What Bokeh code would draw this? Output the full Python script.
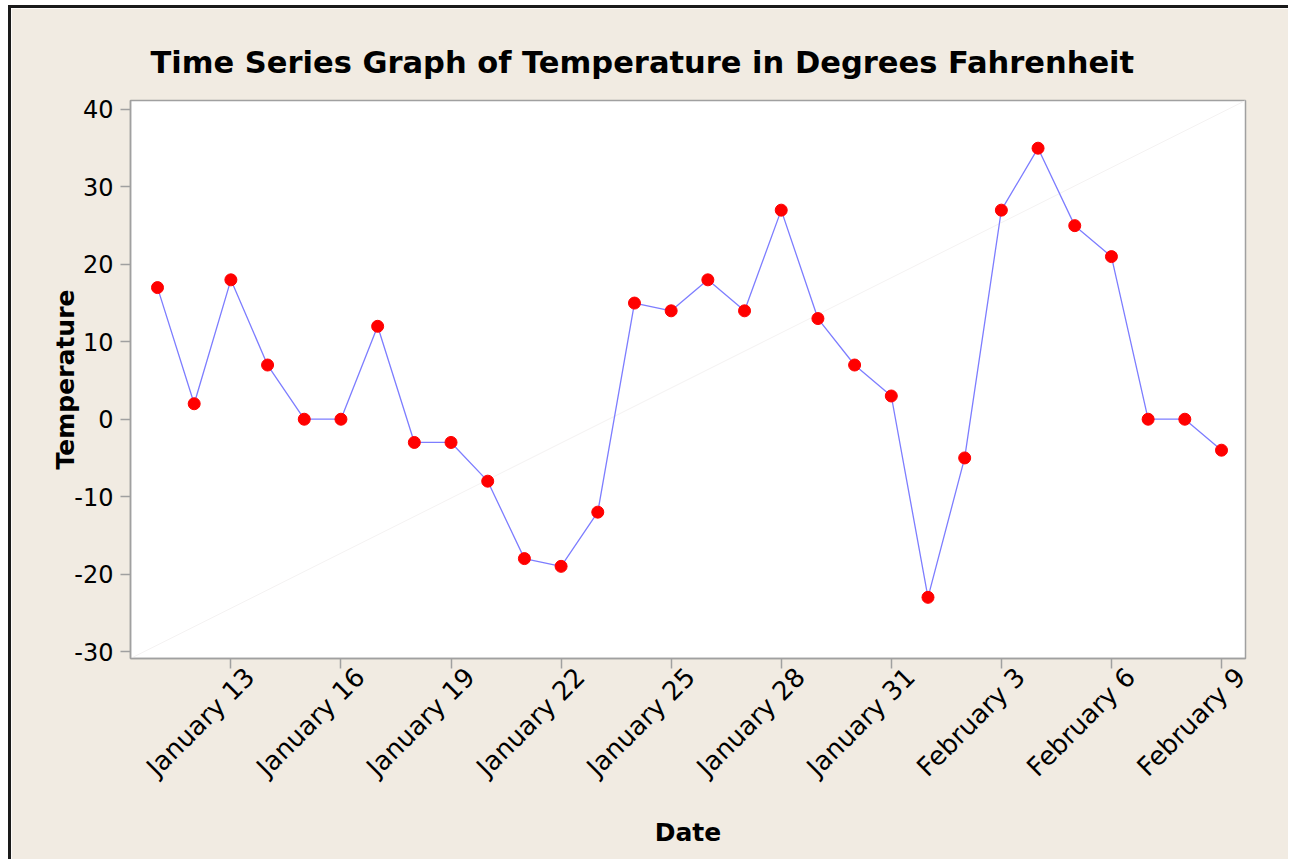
from bokeh.plotting import figure
from bokeh.models import FixedTicker, Range1d, ColumnDataSource, LinearAxis
from bokeh.embed import file_html
from bokeh.resources import INLINE

# ---- data ----
dates = ["January 11", "January 12", "January 13", "January 14", "January 15",
         "January 16", "January 17", "January 18", "January 19", "January 20",
         "January 21", "January 22", "January 23", "January 24", "January 25",
         "January 26", "January 27", "January 28", "January 29", "January 30",
         "January 31", "February 1", "February 2", "February 3", "February 4",
         "February 5", "February 6", "February 7", "February 8", "February 9"]
temperature = [17, 2, 18, 7, 0, 0, 12, -3, -3, -8,
               -18, -19, -12, 15, 14, 18, 14, 27, 13, 7,
               3, -23, -5, 27, 35, 25, 21, 0, 0, -4]
tick_labels = ["January 13", "January 16", "January 19", "January 22", "January 25",
               "January 28", "January 31", "February 3", "February 6", "February 9"]
y_ticks = [-30, -20, -10, 0, 10, 20, 30, 40]

idx = list(range(len(dates)))
label_pos = [dates.index(t) for t in tick_labels]

x_lo, x_hi = -0.736, len(dates) - 1 + 0.654
y_lo, y_hi = -30.9, 41.16
label_shift = 0.52  # rotated tick labels sit a little right of their ticks

BG = "#f1ebe2"
FONT = "DejaVu Sans"

p = figure(width=1280, height=854, output_backend="svg", toolbar_location=None,
           x_range=Range1d(x_lo, x_hi), y_range=Range1d(y_lo, y_hi),
           title="Time Series Graph of Temperature in Degrees Fahrenheit",
           min_border_left=119, min_border_top=92, min_border_right=46,
           min_border_bottom=204)
p.styles = {"border-left": "3px solid #1a1a1a", "border-top": "3px solid #1a1a1a",
            "margin-left": "8px", "margin-top": "5px"}
p.extra_x_ranges = {"lbl": Range1d(x_lo - label_shift, x_hi - label_shift)}

p.background_fill_color = "white"
p.border_fill_color = BG
p.outline_line_color = "#a0a0a0"
p.outline_line_width = 1.5

p.title.text_font = FONT
p.title.text_font_size = "30.5px"
p.title.text_font_style = "bold"
p.title.text_color = "black"
p.title.align = "left"
p.title.offset = 20
p.title.standoff = 41

p.xgrid.visible = False
p.ygrid.visible = False

# faint diagonal reference across the frame
p.line([x_lo, x_hi], [y_lo, y_hi], line_color="#f4f2f2", line_width=1)

src = ColumnDataSource(dict(x=idx, y=temperature, d=dates))
p.line("x", "y", source=src, line_color="#7d7dff", line_width=1.3)
p.scatter("x", "y", source=src, size=12, fill_color="#ff0000", line_color="#ff0000")

# main x axis: line and ticks only
xa = p.xaxis[0]
xa.ticker = FixedTicker(ticks=label_pos)
xa.major_label_overrides = {i: "" for i in label_pos}
xa.major_label_text_font_size = "4px"
xa.major_label_standoff = 0

# label axis: the rotated date labels and the axis title
la = LinearAxis(x_range_name="lbl", ticker=FixedTicker(ticks=label_pos))
la.major_label_overrides = {i: t for i, t in zip(label_pos, tick_labels)}
la.major_label_orientation = 0.785398
la.axis_line_color = None
la.major_tick_line_color = None
la.minor_tick_line_color = None
la.major_tick_out = 0
la.major_tick_in = 0
la.major_label_text_font = FONT
la.major_label_text_font_size = "26px"
la.major_label_text_color = "black"
la.major_label_standoff = 4
la.axis_label = "Date"
la.axis_label_text_font = FONT
la.axis_label_text_font_size = "25px"
la.axis_label_text_font_style = "bold"
la.axis_label_text_color = "black"
la.axis_label_standoff = 22
p.add_layout(la, "below")

ya = p.yaxis[0]
ya.ticker = FixedTicker(ticks=y_ticks)
ya.major_label_overrides = {v: str(v) for v in y_ticks}
ya.axis_label = "Temperature"
ya.major_label_text_font = FONT
ya.major_label_text_font_size = "24px"
ya.major_label_text_color = "black"
ya.major_label_standoff = 7
ya.axis_label_text_font = FONT
ya.axis_label_text_font_size = "25px"
ya.axis_label_text_font_style = "bold"
ya.axis_label_text_color = "black"
ya.axis_label_standoff = -9

for ax in (xa, ya):
    ax.axis_line_color = "#a0a0a0"
    ax.axis_line_width = 1.5
    ax.major_tick_line_color = "#a0a0a0"
    ax.major_tick_line_width = 1.5
    ax.major_tick_out = 10
    ax.major_tick_in = 0
    ax.minor_tick_line_color = None

open("out.html", "w").write(file_html(p, INLINE))
